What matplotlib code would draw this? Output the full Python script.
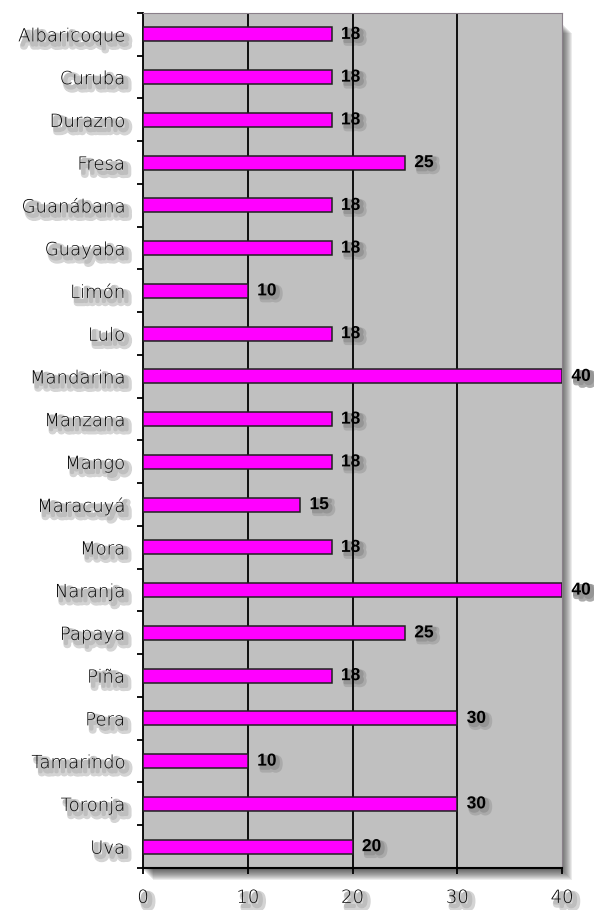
import matplotlib
matplotlib.use("Agg")
import matplotlib.pyplot as plt
import matplotlib.patheffects as pe
from matplotlib.patches import Rectangle
import numpy as np

frutas = ["Albaricoque", "Curuba", "Durazno", "Fresa", "Guanábana", "Guayaba",
          "Limón", "Lulo", "Mandarina", "Manzana", "Mango", "Maracuyá", "Mora",
          "Naranja", "Papaya", "Piña", "Pera", "Tamarindo", "Toronja", "Uva"]
valores = [18, 18, 18, 25, 18, 18, 10, 18, 40, 18, 18, 15, 18, 40, 25, 18, 30, 10, 30, 20]
xticks = [0, 10, 20, 30, 40]

plt.rcParams["font.family"] = ["DejaVu Sans"]

W, H = 594, 910
fig = plt.figure(figsize=(W / 100, H / 100), dpi=100)
L, R, B, T = 143 / W, 562 / W, 1 - 868 / H, 1 - 13 / H

# drop shadow of the plot area: stacked translucent boxes -> dark near the edge, fading out
for k in range(1, 13):
    fig.patches.append(Rectangle((L + (k - 2) / W, B - k / H), R - L, T - B - 8 / H,
                                 transform=fig.transFigure, facecolor="#202020",
                                 edgecolor="none", alpha=0.085, zorder=0))

ax = fig.add_axes([L, B, R - L, T - B])
ax.set_zorder(5)
ax.set_facecolor("#c0c0c0")

soft = [pe.Stroke(offset=(3.5, -3.5), linewidth=5, foreground="#d4d4d4"),
        pe.Stroke(offset=(2.5, -2.5), linewidth=2.5, foreground="#bebebe"),
        pe.Normal()]
dark = [pe.Stroke(offset=(3, -3), linewidth=4, foreground="#aaaaaa"),
        pe.Stroke(offset=(2, -2), linewidth=2, foreground="#959595"),
        pe.Normal()]

y = np.arange(len(frutas))
ax.barh(y, valores, height=0.33, color="#ff00ff", edgecolor="#202020",
        linewidth=1.1, zorder=3)
for yi, v in zip(y, valores):
    ax.text(v + 0.9, yi, str(v), va="center", ha="left", fontsize=12.5,
            family="Liberation Sans", fontweight="bold", color="black",
            zorder=1, path_effects=dark, clip_on=False)

for x in xticks[1:-1]:
    ax.axvline(x, color="black", linewidth=1.3, zorder=2)

ax.set_xlim(0, 40)
ax.set_ylim(len(frutas) - 0.5, -0.5)
ax.set_xticks(xticks)
ax.set_yticks(y)
ax.set_yticklabels(frutas)
ax.set_yticks(np.arange(len(frutas) + 1) - 0.5, minor=True)
ax.tick_params(axis="y", which="major", length=0, pad=13, labelsize=13)
ax.tick_params(axis="y", which="minor", length=4.5, width=1.3, direction="out")
ax.tick_params(axis="x", length=4, width=1.3, direction="out", pad=11, labelsize=13)

for lbl in ax.get_yticklabels() + ax.get_xticklabels():
    lbl.set_path_effects(soft)
    lbl.set_fontweight("light")
    lbl.set_color("black")

ax.spines["left"].set_linewidth(1.3)
ax.spines["bottom"].set_linewidth(1.5)
ax.spines["top"].set_color("#8a808a")
ax.spines["right"].set_color("#8a808a")

fig.savefig("out.png", dpi=100)
